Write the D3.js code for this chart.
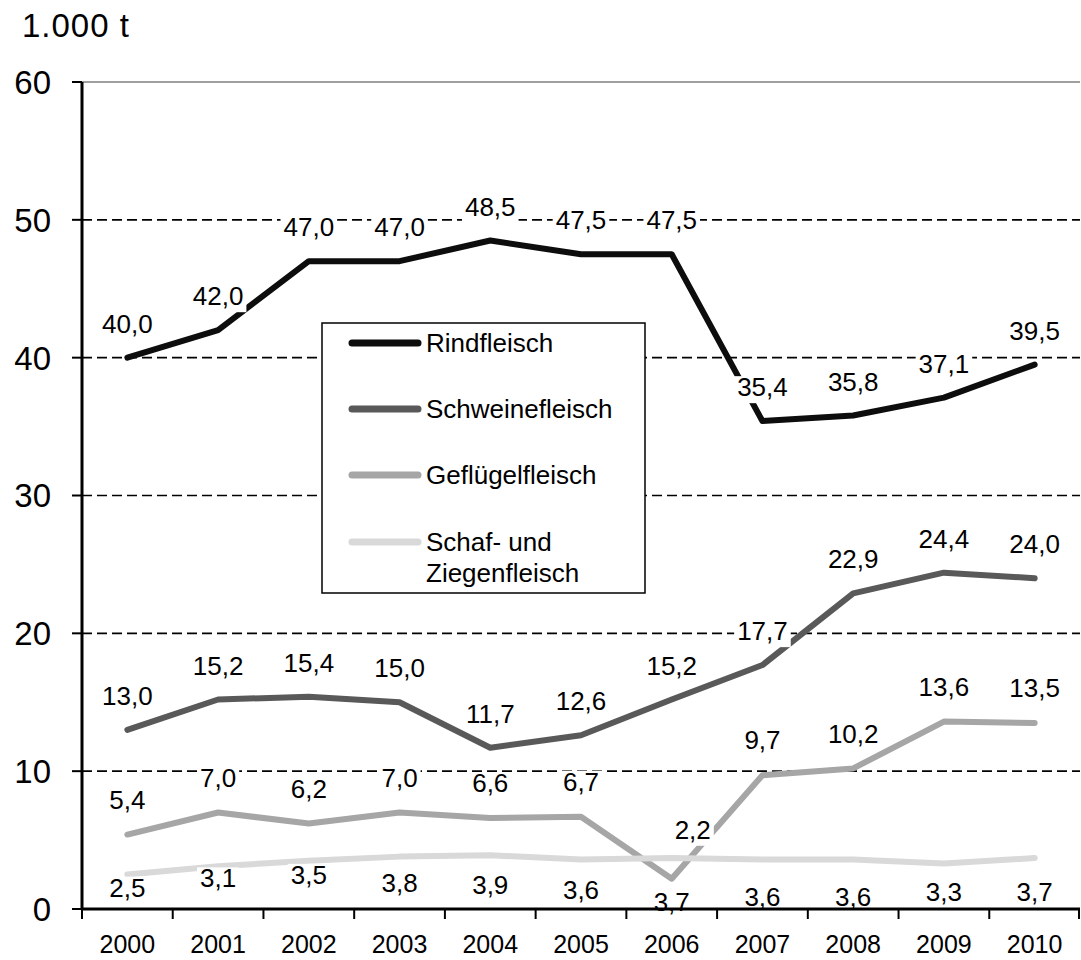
<!DOCTYPE html>
<html>
<head>
<meta charset="utf-8">
<script src="https://cdn.jsdelivr.net/npm/d3@7"></script>
<style>
  body { margin: 0; background: #fff; }
  text { font-family: Arial, "Liberation Sans", sans-serif; fill: #000; }
</style>
</head>
<body>
<script>
// data (1.000 t)
var years = ['2000','2001','2002','2003','2004','2005','2006','2007','2008','2009','2010']
var rindfleisch = [40.0, 42.0, 47.0, 47.0, 48.5, 47.5, 47.5, 35.4, 35.8, 37.1, 39.5]
var schweinefleisch = [13.0, 15.2, 15.4, 15.0, 11.7, 12.6, 15.2, 17.7, 22.9, 24.4, 24.0]
var gefluegelfleisch = [5.4, 7.0, 6.2, 7.0, 6.6, 6.7, 2.2, 9.7, 10.2, 13.6, 13.5]
var schaffleisch = [2.5, 3.1, 3.5, 3.8, 3.9, 3.6, 3.7, 3.6, 3.6, 3.3, 3.7]
var seriesNames = ['Rindfleisch', 'Schweinefleisch', 'Geflügelfleisch', 'Schaf- und Ziegenfleisch']
var yTicks = [0, 10, 20, 30, 40, 50, 60]

var colors = ['#0d0d0d', '#595959', '#a6a6a6', '#d9d9d9']

// label placement (pixel offsets of the label centre from the point)
var labelDy = [-34, -34, -35, 0]
var schafLabelDy = [13, 12, 14, 26, 30, 31, 44, 38, 38, 28, 34]

var WIDTH = 1081, HEIGHT = 960
var margin = {top: 82, right: 1, bottom: 51, left: 82}

var series = [rindfleisch, schweinefleisch, gefluegelfleisch, schaffleisch]

var svg = d3.select('body').append('svg')
  .attr('width', WIDTH)
  .attr('height', HEIGHT)

var x = d3.scaleBand().domain(years).range([margin.left, WIDTH - margin.right]).padding(0)
var y = d3.scaleLinear().domain([0, 60]).range([HEIGHT - margin.bottom, margin.top])

var cx = function(i){ return x(years[i]) + x.bandwidth() / 2 }

// gridlines
svg.append('g').selectAll('line').data(yTicks.filter(function(d){ return d > 0 }))
  .enter().append('line')
    .attr('x1', margin.left).attr('x2', WIDTH - margin.right)
    .attr('y1', function(d){ return y(d) }).attr('y2', function(d){ return y(d) })
    .attr('stroke', function(d){ return d === 60 ? '#a0a0a0' : '#000' })
    .attr('stroke-width', function(d){ return d === 60 ? 2 : 1.6 })
    .attr('stroke-dasharray', function(d){ return d === 60 ? null : '10,5' })

// lines
var line = d3.line()
  .x(function(d, i){ return cx(i) })
  .y(function(d){ return y(d) })

svg.append('g').selectAll('path').data(series)
  .enter().append('path')
    .attr('d', line)
    .attr('fill', 'none')
    .attr('stroke', function(d, i){ return colors[i] })
    .attr('stroke-width', 6)
    .attr('stroke-linecap', 'round')
    .attr('stroke-linejoin', 'round')

// data labels with white boxes
var labelG = svg.append('g')
series.forEach(function(vals, s){
  vals.forEach(function(v, i){
    var dx = 0, dy = labelDy[s]
    if (s === 3) dy = schafLabelDy[i]
    if (s === 2 && years[i] === '2006') { dx = 21; dy = -49 }
    var g = labelG.append('g')
    var t = g.append('text')
      .attr('x', cx(i) + dx)
      .attr('y', y(v) + dy)
      .attr('dy', '0.35em')
      .attr('text-anchor', 'middle')
      .style('font-size', '26px')
      .text(d3.format('.1f')(v).replace('.', ','))
    var bb = t.node().getBBox()
    g.insert('rect', 'text')
      .attr('x', bb.x - 3).attr('y', bb.y + 4)
      .attr('width', bb.width + 6).attr('height', bb.height - 3)
      .attr('fill', '#fff')
  })
})

// axes
var yAxis = svg.append('g')
yAxis.append('line')
  .attr('x1', margin.left).attr('x2', margin.left)
  .attr('y1', y(60)).attr('y2', y(0))
  .attr('stroke', '#000').attr('stroke-width', 3)
yAxis.selectAll('.tick').data(yTicks).enter().append('line')
  .attr('x1', margin.left - 10).attr('x2', margin.left)
  .attr('y1', function(d){ return y(d) }).attr('y2', function(d){ return y(d) })
  .attr('stroke', '#000').attr('stroke-width', 2)
yAxis.selectAll('text').data(yTicks).enter().append('text')
  .attr('x', 51)
  .attr('y', function(d){ return y(d) })
  .attr('dy', '0.36em')
  .attr('text-anchor', 'end')
  .style('font-size', '33px')
  .text(function(d){ return d })

var xAxis = svg.append('g')
xAxis.append('line')
  .attr('x1', margin.left).attr('x2', WIDTH - margin.right)
  .attr('y1', y(0)).attr('y2', y(0))
  .attr('stroke', '#000').attr('stroke-width', 3)
var bounds = years.map(function(d){ return x(d) }).concat([WIDTH - margin.right - 1])
xAxis.selectAll('.tick').data(bounds).enter().append('line')
  .attr('x1', function(d){ return d }).attr('x2', function(d){ return d })
  .attr('y1', y(0)).attr('y2', y(0) + 10)
  .attr('stroke', '#000').attr('stroke-width', 2)
xAxis.selectAll('text').data(years).enter().append('text')
  .attr('x', function(d){ return x(d) + x.bandwidth() / 2 })
  .attr('y', 953)
  .attr('text-anchor', 'middle')
  .style('font-size', '25px')
  .text(function(d){ return d })

// unit
svg.append('text')
  .attr('x', 22).attr('y', 37)
  .style('font-size', '33px')
  .style('letter-spacing', '1px')
  .text('1.000 t')

// legend
var legend = svg.append('g')
legend.append('rect')
  .attr('x', 322).attr('y', 323).attr('width', 323).attr('height', 270)
  .attr('fill', '#fff').attr('stroke', '#000').attr('stroke-width', 1.5)
var legendY = [343, 409, 475, 542]
seriesNames.forEach(function(name, i){
  legend.append('line')
    .attr('x1', 352).attr('x2', 418)
    .attr('y1', legendY[i]).attr('y2', legendY[i])
    .attr('stroke', colors[i]).attr('stroke-width', 7)
    .attr('stroke-linecap', 'round')
  var parts = i === 3 ? ['Schaf- und', 'Ziegenfleisch'] : [name]
  parts.forEach(function(p, k){
    legend.append('text')
      .attr('x', 426).attr('y', legendY[i] + k * 31)
      .attr('dy', '0.35em')
      .style('font-size', '26px')
      .text(p)
  })
})
</script>
</body>
</html>
